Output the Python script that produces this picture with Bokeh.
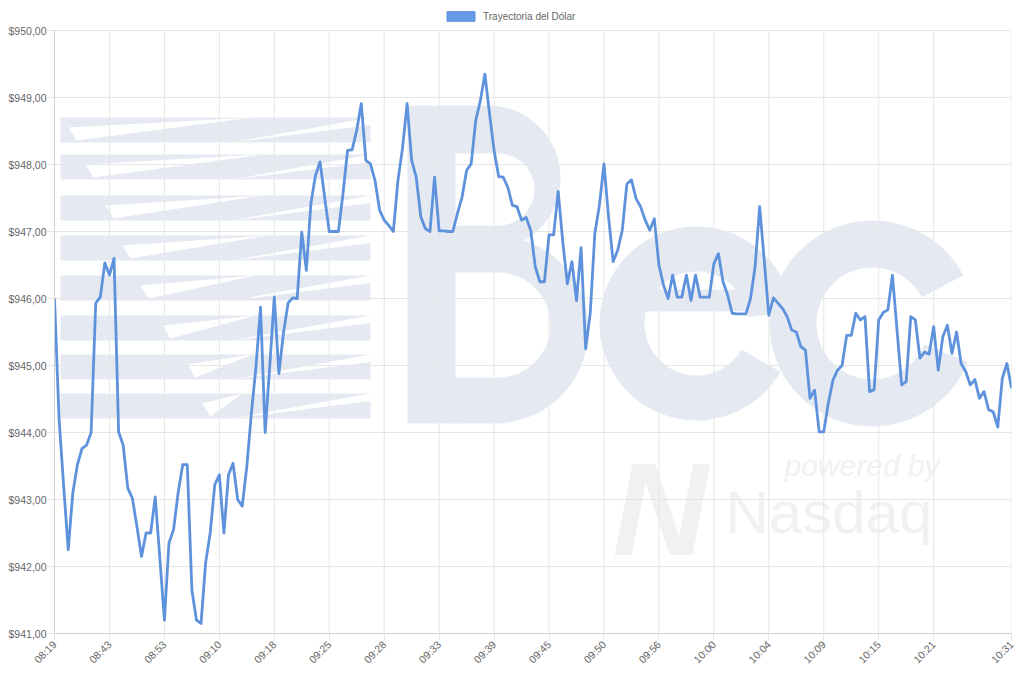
import math
from bokeh.plotting import figure
from bokeh.models import Range1d, FixedTicker, Legend, LegendItem
from bokeh.core.properties import value
from bokeh.embed import file_html
from bokeh.resources import INLINE

# ---------------- data ----------------
series_name = "Trayectoria del Dólar"

prices = [
    946.00, 944.20, 943.20, 942.25, 943.10, 943.52, 943.76, 943.81, 944.00, 945.93,
    946.02, 946.53, 946.35, 946.60, 944.01, 943.81, 943.17, 943.02, 942.60, 942.15,
    942.50, 942.50, 943.04, 942.13, 941.20, 942.35, 942.55, 943.10, 943.52, 943.52,
    941.65, 941.20, 941.15, 942.05, 942.50, 943.22, 943.37, 942.50, 943.37, 943.54,
    943.00, 942.90, 943.49, 944.29, 944.98, 945.87, 944.00, 944.98, 946.02, 944.88,
    945.48, 945.93, 946.01, 946.00, 946.99, 946.42, 947.42, 947.84, 948.04, 947.51,
    947.00, 947.00, 947.00, 947.56, 948.21, 948.22, 948.51, 948.91, 948.06, 948.01,
    947.76, 947.32, 947.17, 947.09, 947.00, 947.76, 948.24, 948.91, 948.06, 947.81,
    947.22, 947.04, 947.00, 947.81, 947.01, 947.01, 947.00, 947.00, 947.27, 947.51,
    947.91, 948.01, 948.66, 948.95, 949.35, 948.76, 948.21, 947.82, 947.81, 947.66,
    947.39, 947.37, 947.17, 947.21, 947.02, 946.47, 946.25, 946.25, 946.95, 946.95,
    947.60, 946.85, 946.22, 946.55, 945.97, 946.76, 945.25, 945.78, 946.97, 947.39,
    948.01, 947.22, 946.55, 946.72, 947.02, 947.71, 947.77, 947.49, 947.37, 947.17,
    947.02, 947.19, 946.50, 946.20, 946.00, 946.35, 946.02, 946.02, 946.35, 945.97,
    946.35, 946.02, 946.02, 946.02, 946.52, 946.67, 946.25, 946.05, 945.78, 945.77,
    945.77, 945.77, 946.00, 946.47, 947.37, 946.57, 945.75, 946.01, 945.93, 945.85,
    945.73, 945.53, 945.50, 945.28, 945.23, 944.51, 944.63, 944.01, 944.01, 944.44,
    944.78, 944.93, 945.00, 945.45, 945.45, 945.78, 945.68, 945.73, 944.61, 944.64,
    945.68, 945.79, 945.83, 946.35, 945.53, 944.71, 944.76, 945.73, 945.68, 945.11,
    945.20, 945.17, 945.58, 944.93, 945.43, 945.60, 945.18, 945.50, 945.03, 944.91,
    944.71, 944.79, 944.51, 944.61, 944.34, 944.31, 944.08, 944.81, 945.03, 944.66,
]
point_index = list(range(len(prices)))

x_tick_index = [0, 12, 24, 36, 48, 60, 72, 84, 96, 108, 120, 132, 144, 156, 168, 180, 192, 209]
x_tick_labels = ["08:19", "08:43", "08:53", "09:10", "09:18", "09:25", "09:28", "09:33", "09:39",
                 "09:45", "09:50", "09:56", "10:00", "10:04", "10:09", "10:15", "10:21", "10:31"]

y_ticks = [941, 942, 943, 944, 945, 946, 947, 948, 949, 950]
y_tick_labels = ["$941,00", "$942,00", "$943,00", "$944,00", "$945,00",
                 "$946,00", "$947,00", "$948,00", "$949,00", "$950,00"]

# ---------------- styles ----------------
FONT = "Liberation Sans"
LINE_COLOR = "#5e92dc"
BOX_FILL = "#6699e8"
TEXT_COLOR = "#666666"
GRID_COLOR = "#e6e6e6"
AXIS_COLOR = "#cfcfcf"
WM = "#e5eaf2"       # watermark (Bec)
WM2 = "#f1f1f1"      # watermark (Nasdaq)

# layout (canvas pixels)
W, H = 1024, 679
FL, FR, FT, FB = 54.0, 1011.0, 30.0, 633.0   # chart area edges

n = len(prices)
y_lo, y_hi = y_ticks[0], y_ticks[-1]
px_per_unit = (FB - FT) / (y_hi - y_lo)
# frame reaches the canvas top so the legend can sit above the chart area
y_top = y_hi + FT / px_per_unit

p = figure(width=W, height=H, output_backend="svg", toolbar_location=None,
           x_range=Range1d(0, n - 1), y_range=Range1d(y_lo, y_top),
           min_border_left=int(FL), min_border_right=int(W - FR), min_border_top=0,
           min_border_bottom=int(H - FB),
           background_fill_color="white", border_fill_color="white")
p.outline_line_color = None


def xd(px):
    return (px - FL) / (FR - FL) * (n - 1)


def yd(py):
    return y_hi - (py - FT) / px_per_unit


def wm(**kw):
    kw.setdefault("line_color", None)
    kw.setdefault("level", "image")
    return kw


# --- watermark: striped part ---
bar_tops = [117, 154, 195, 235, 275, 315, 354, 393]
bar_h = 25
p.quad(left=[xd(60)] * len(bar_tops), right=[xd(370)] * len(bar_tops),
       top=[yd(t) for t in bar_tops], bottom=[yd(t + bar_h) for t in bar_tops],
       **wm(fill_color=WM))
# white "speed" cuts through the stripes
cut_start = [68, 85, 105, 122, 140, 162, 187, 202]
cut_end = [252, 262, 262, 268, 255, 255, 252, 242]
xs, ys = [], []
for t, s, e in zip(bar_tops, cut_start, cut_end):
    xs.append([xd(s), xd(s + 8), xd(e)])
    ys.append([yd(t + 0.4 * bar_h), yd(t + 0.92 * bar_h), yd(t)])
    xs.append([xd(232), xd(370), xd(370)])
    ys.append([yd(t + bar_h), yd(t), yd(t + 0.3 * bar_h)])
p.patches(xs=xs, ys=ys, **wm(fill_color="white"))

# --- watermark: "B" built from shapes ---
p.quad(left=[xd(407)], right=[xd(456)], top=[yd(105)], bottom=[yd(423)], **wm(fill_color=WM))
for (top, bot, right), col in [((105, 250, 560), WM), ((235, 423, 588), WM),
                               ((153, 225, 534), "white"), ((272, 377, 550), "white")]:
    r = (bot - top) / 2.0
    cx = right - r
    p.quad(left=[xd(455)], right=[xd(cx)], top=[yd(top)], bottom=[yd(bot)], **wm(fill_color=col))
    p.wedge(x=[xd(cx)], y=[yd(top + r)], radius=r, radius_units="screen",
            start_angle=-math.pi / 2, end_angle=math.pi / 2, **wm(fill_color=col))

# --- watermark: "e" ---
p.annular_wedge(x=[xd(696)], y=[yd(323)], inner_radius=52, outer_radius=97,
                inner_radius_units="screen", outer_radius_units="screen",
                start_angle=math.radians(7), end_angle=math.radians(-30),
                **wm(fill_color=WM))
p.quad(left=[xd(640)], right=[xd(791)], top=[yd(289)], bottom=[yd(311)], **wm(fill_color=WM))
# --- watermark: "c" ---
p.annular_wedge(x=[xd(872)], y=[yd(323)], inner_radius=56, outer_radius=103,
                inner_radius_units="screen", outer_radius_units="screen",
                start_angle=math.radians(28), end_angle=math.radians(-22),
                **wm(fill_color=WM))

# --- watermark: powered by Nasdaq ---
p.text(x=[xd(612)], y=[yd(509)], text=["N"], text_font=value(FONT),
       text_font_style="bold italic", text_font_size="132px", text_color=WM2,
       text_baseline="alphabetic", level="image")
p.text(x=[xd(784)], y=[yd(465)], text=["powered by"], text_font=value(FONT),
       text_font_style="italic", text_font_size="30px", text_color=WM2,
       text_baseline="alphabetic", level="image")
p.text(x=[xd(725)], y=[yd(512)], text=["Nasdaq"], text_font=value(FONT),
       text_font_size="60px", text_color=WM2, text_baseline="alphabetic", level="image")

# ---------------- vertical grid lines (only over the chart area) ----------------
p.xgrid.visible = False
p.segment(x0=x_tick_index, y0=[y_lo] * len(x_tick_index),
          x1=x_tick_index, y1=[y_hi] * len(x_tick_index),
          line_color=GRID_COLOR, line_width=1, level="underlay")
p.ygrid.grid_line_color = GRID_COLOR

# ---------------- data line ----------------
# zero-size boxes on the data points give the legend its filled swatch
box_r = p.quad(left=point_index, right=point_index, top=prices, bottom=prices,
               fill_color=BOX_FILL, line_color=LINE_COLOR, line_width=1)
line_r = p.line(x=point_index, y=prices, line_color=LINE_COLOR, line_width=2.8,
                line_join="round")

# ---------------- axes ----------------
xa = p.xaxis[0]
xa.ticker = FixedTicker(ticks=x_tick_index)
xa.major_label_overrides = {i: s for i, s in zip(x_tick_index, x_tick_labels)}
xa.major_label_orientation = math.pi / 4
xa.major_label_text_font = FONT
xa.major_label_text_font_size = "10.5px"
xa.major_label_text_color = TEXT_COLOR
xa.major_tick_out = 7
xa.major_tick_in = 0
xa.major_tick_line_color = GRID_COLOR
xa.minor_tick_line_color = None
xa.axis_line_color = AXIS_COLOR
xa.major_label_standoff = 2

ya = p.yaxis[0]
ya.ticker = FixedTicker(ticks=y_ticks)
ya.bounds = (y_lo, y_hi)
ya.major_label_overrides = {v: s for v, s in zip(y_ticks, y_tick_labels)}
ya.major_label_text_font = FONT
ya.major_label_text_font_size = "10.5px"
ya.major_label_text_color = TEXT_COLOR
ya.major_tick_out = 7
ya.major_tick_in = 0
ya.major_tick_line_color = GRID_COLOR
ya.minor_tick_line_color = None
ya.axis_line_color = AXIS_COLOR
ya.major_label_standoff = 1

# ---------------- legend (top, above the chart area) ----------------
legend = Legend(items=[LegendItem(label=series_name, renderers=[box_r])],
                orientation="horizontal", location=(443 - FL, FB - 22),
                glyph_width=35, glyph_height=12, label_standoff=5,
                label_text_font=FONT, label_text_font_size="10px",
                label_text_color=TEXT_COLOR, label_height=12,
                padding=0, margin=0, spacing=0,
                border_line_color=None, background_fill_alpha=0)
p.add_layout(legend, "center")

open("out.html", "w").write(file_html(p, INLINE))
